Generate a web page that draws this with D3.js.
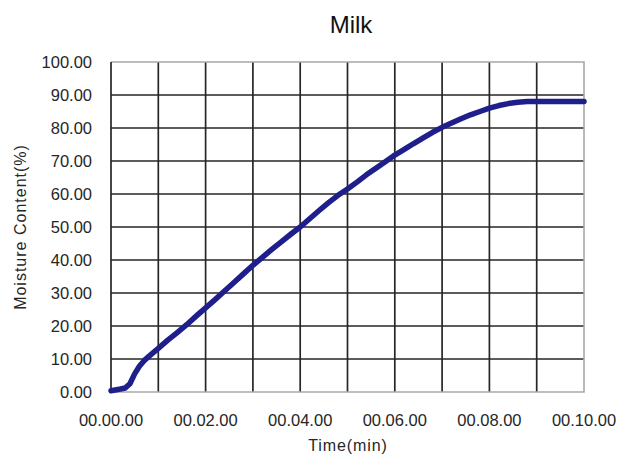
<!DOCTYPE html>
<html>
<head>
<meta charset="utf-8">
<script src="https://cdn.jsdelivr.net/npm/d3@7"></script>
<style>
  html, body { margin: 0; padding: 0; background: #fff; }
  svg { display: block; font-family: "Liberation Sans", Arial, sans-serif; }
</style>
</head>
<body>
<svg id="chart" width="622" height="456"></svg>
<script>
// ---- data ----
const chartTitle = "Milk";
const xAxisTitle = "Time(min)";
const yAxisTitle = "Moisture Content(%)";
const timeMin = [0, 0.2, 0.3, 0.4, 0.5, 0.6, 0.7, 0.8, 0.9, 1.0, 1.2, 1.4, 1.6, 1.8, 2.0, 2.2, 2.4, 2.6, 2.8, 3.0,
  3.2, 3.4, 3.6, 3.8, 4.0, 4.2, 4.4, 4.6, 4.8, 5.0, 5.2, 5.4, 5.6, 5.8, 6.0, 6.2, 6.4, 6.6, 6.8, 7.0,
  7.2, 7.4, 7.6, 7.8, 8.0, 8.2, 8.4, 8.6, 8.8, 9.0, 9.5, 10.0];
const moisture = [0.4, 0.9, 1.2, 2.5, 5.5, 7.8, 9.5, 10.8, 12.0, 13.2, 15.7, 18.0, 20.4, 23.0, 25.5, 28.0, 30.6, 33.2, 35.8, 38.4,
  40.8, 43.2, 45.5, 47.8, 50.0, 52.5, 55.0, 57.4, 59.6, 61.5, 63.6, 65.8, 67.8, 69.8, 71.8, 73.5, 75.3, 77.0, 78.7, 80.2,
  81.5, 82.8, 84.0, 85.0, 86.0, 86.8, 87.4, 87.8, 88.0, 88.0, 88.0, 88.0];
const yTicks = [0, 10, 20, 30, 40, 50, 60, 70, 80, 90, 100];
const xGridMinutes = [0, 1, 2, 3, 4, 5, 6, 7, 8, 9, 10];
const xLabelMinutes = [0, 2, 4, 6, 8, 10];
const xTickLabels = ["00.00.00", "00.02.00", "00.04.00", "00.06.00", "00.08.00", "00.10.00"];

// ---- layout ----
const svg = d3.select("#chart");
const L = 111, R = 584, T = 62, B = 392;
const x = d3.scaleLinear().domain([0, 10]).range([L, R]);
const y = d3.scaleLinear().domain([0, 100]).range([B, T]);

// grid lines (interior dark)
const g = svg.append("g");
g.selectAll("line.hg").data(yTicks.filter(v => v > 0 && v < 100)).enter().append("line")
  .attr("x1", L).attr("x2", R).attr("y1", d => y(d)).attr("y2", d => y(d))
  .attr("stroke", "#262626").attr("stroke-width", 1.7);
g.selectAll("line.vg").data(xGridMinutes.filter(v => v > 0 && v < 10)).enter().append("line")
  .attr("y1", T).attr("y2", B).attr("x1", d => x(d)).attr("x2", d => x(d))
  .attr("stroke", "#262626").attr("stroke-width", 1.7);
// border (grey) top, right, bottom
g.append("path")
  .attr("d", `M${L},${y(100)}H${x(10)}V${y(0)}H${L}`)
  .attr("fill", "none").attr("stroke", "#a8a8a8").attr("stroke-width", 1.6);
// left axis line dark
g.append("line").attr("x1", L).attr("x2", L).attr("y1", T).attr("y2", B)
  .attr("stroke", "#262626").attr("stroke-width", 1.7);

// y tick labels
svg.append("g").selectAll("text").data(yTicks).enter().append("text")
  .attr("x", 92).attr("y", d => y(d)).attr("dy", "0.36em")
  .attr("text-anchor", "end").attr("font-size", 16.5).attr("fill", "#262626")
  .text(d => d.toFixed(2));

// x tick labels
svg.append("g").selectAll("text").data(xLabelMinutes).enter().append("text")
  .attr("x", d => x(d)).attr("y", 426)
  .attr("text-anchor", "middle").attr("font-size", 16.5).attr("fill", "#262626")
  .text((d, i) => xTickLabels[i]);

// title
svg.append("text").attr("x", 351).attr("y", 33).attr("text-anchor", "middle")
  .attr("font-size", 24).attr("fill", "#111").text(chartTitle);

// axis titles
svg.append("text").attr("x", 348).attr("y", 451).attr("text-anchor", "middle")
  .attr("font-size", 16).attr("letter-spacing", 0.9).attr("fill", "#262626").text(xAxisTitle);
svg.append("text").attr("transform", "translate(26,227) rotate(-90)")
  .attr("text-anchor", "middle").attr("font-size", 16).attr("letter-spacing", 1.0).attr("fill", "#262626")
  .text(yAxisTitle);

// data line
const line = d3.line().x((d, i) => x(timeMin[i])).y(d => y(d));
svg.append("path").datum(moisture)
  .attr("d", line)
  .attr("fill", "none").attr("stroke", "#1f1f8c").attr("stroke-width", 5.5)
  .attr("stroke-linejoin", "round").attr("stroke-linecap", "round");
</script>
</body>
</html>
